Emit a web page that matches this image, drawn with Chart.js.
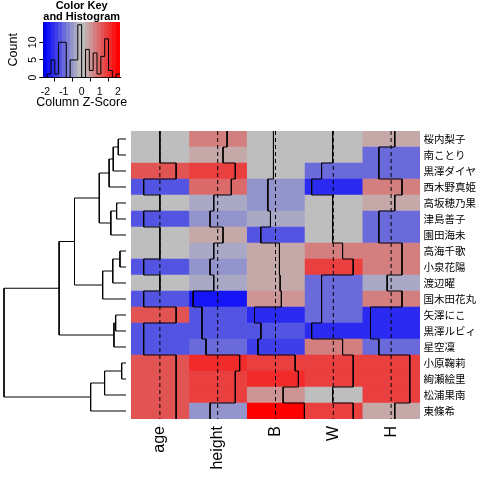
<!DOCTYPE html>
<html>
<head>
<meta charset="utf-8">
<script src="https://cdn.jsdelivr.net/npm/chart.js@4.4.1/dist/chart.umd.min.js"></script>
<style>
html, body { margin: 0; padding: 0; background: #fff; width: 480px; height: 480px; overflow: hidden; }
canvas { position: absolute; }
</style>
</head>
<body>
<canvas id="key" width="164" height="112" style="left:0;top:0"></canvas>
<canvas id="dendro" width="131" height="288" style="left:0;top:131px"></canvas>
<canvas id="heat" width="349" height="349" style="left:131px;top:131px"></canvas>
<script>
// rows in dendrogram order, top to bottom
const rowNames = ['桜内梨子', '南ことり', '黒澤ダイヤ', '西木野真姫', '高坂穂乃果', '津島善子', '園田海未', '高海千歌', '小泉花陽',
    '渡辺曜', '国木田花丸', '矢澤にこ', '黒澤ルビィ', '星空凜', '小原鞠莉', '絢瀬絵里', '松浦果南', '東條希'];
const colNames = ['age', 'height', 'B', 'W', 'H'];

// column z-scores, same row order
const zAge = [0, 0, 1.19, -1.19, 0, -1.19, 0, 0, -1.19, 0, -1.19, 1.19, -1.19, -1.19, 1.19, 1.19, 1.19, 1.19];
const zHeight = [0.69, 0.39, 1.29, 1.00, -0.29, -0.56, 0.39, -0.29, -0.56, -0.29, -1.80, -1.15, -1.15, -0.86, 1.61, 1.29, 1.29, -0.56];
const zB = [-0.15, -0.15, -0.15, -0.56, -0.56, -0.37, -1.08, 0.29, 0.29, 0.34, 0.43, -1.54, -1.07, -1.29, 1.44, 1.68, 0.56, 2.12];
const zW = [-0.05, -0.05, -0.86, -1.59, -0.05, -0.05, -0.05, 0.68, 1.46, -0.86, -0.86, -0.86, -1.59, 0.68, 1.46, 1.46, -0.05, 1.46];
const zH = [0.27, -0.90, -0.90, 0.80, 0.27, -0.90, -0.90, 0.80, 0.80, -0.29, 0.80, -1.51, -1.51, -0.90, 1.37, 1.37, 1.37, 0.27];

// row dendrogram, hclust style: negative = row position, positive = earlier merge
const mergeLeft = [-1, 1, 2, -5, 4, 3, -8, 7, 8, 6, -12, 11, 10, -15, 14, 15, 13];
const mergeRight = [-2, -3, -4, -6, -7, 5, -9, -10, -11, 9, -13, -14, 12, -16, -17, -18, 16];
const mergeHeight = [0.32, 0.53, 0.70, 0.39, 0.63, 1.11, 0.25, 0.55, 0.97, 2.14, 0.43, 0.50, 2.78, 0.18, 0.89, 1.47, 5.07];

const keyTicks = [-2, -1, 0, 1, 2];
const countTicks = [0, 5, 10];

Chart.defaults.font.family = "'Liberation Sans', Arial, sans-serif";
Chart.defaults.color = '#000';

const columns = [zAge, zHeight, zB, zW, zH];
const nCol = 20;
const zmax = Math.max(...columns.flat().map(Math.abs));
const bw = 2 * zmax / nCol;
const breaks = [];
for (let i = 0; i <= nCol; i++) breaks.push(-zmax + i * bw);

function mix(a, b, t) {
    return 'rgb(' + a.map((v, i) => Math.round(v + (b[i] - v) * t)).join(',') + ')';
}
// blue -> grey -> red, like colorpanel(20, "blue", "grey", "red")
const palette = [];
for (let i = 0; i < nCol / 2; i++) palette.push(mix([0, 0, 255], [190, 190, 190], i / (nCol / 2 - 1)));
for (let i = 0; i < nCol / 2; i++) palette.push(mix([190, 190, 190], [255, 0, 0], i / (nCol / 2 - 1)));

function binOf(v) {
    const k = Math.ceil((v + zmax) / bw - 1e-9) - 1;
    return Math.min(nCol - 1, Math.max(0, k));
}
const counts = new Array(nCol).fill(0);
columns.flat().forEach(v => counts[binOf(v)]++);
const yTop = Math.max(...counts) / 0.95;

// colour key + histogram
new Chart(document.getElementById('key'), {
    type: 'bar',
    data: {
        datasets: [
            {
                type: 'bar',
                data: palette.map((_, i) => ({ x: breaks[i] + bw / 2, y: [0, yTop] })),
                backgroundColor: palette,
                borderWidth: 0,
                barPercentage: 1,
                categoryPercentage: 1,
                grouped: false,
                order: 2,
            },
            {
                type: 'line',
                data: breaks.map((b, i) => ({ x: b, y: counts[Math.min(i, nCol - 1)] })),
                stepped: 'before',
                borderColor: '#000',
                borderWidth: 1,
                pointRadius: 0,
                clip: false,
                order: 1,
            },
        ],
    },
    options: {
        responsive: false,
        animation: false,
        devicePixelRatio: 1,
        layout: { padding: { left: 0, right: 44, top: 0, bottom: 0 } },
        plugins: {
            legend: { display: false },
            tooltip: { enabled: false },
            title: {
                display: true,
                fullSize: false,
                text: ['Color Key', 'and Histogram'],
                color: '#000',
                font: { size: 11, weight: 'bold', lineHeight: 1 },
                padding: { top: 0, bottom: 0 },
            },
        },
        scales: {
            x: {
                type: 'linear',
                min: -zmax,
                max: zmax,
                offset: false,
                weight: 0,
                afterBuildTicks: function (s) { s.ticks = keyTicks.map(v => ({ value: v })) },
                ticks: { font: { size: 10.5 }, padding: 4.5, autoSkip: false },
                grid: { drawOnChartArea: false, tickLength: 4, color: '#000' },
                border: { display: true, color: '#000' },
                afterFit: function (s) { s.height = 19 },
            },
            // second bottom axis carrying the axis name as a single label
            xlab: {
                type: 'linear',
                axis: 'x',
                position: 'bottom',
                min: -zmax,
                max: zmax,
                offset: false,
                weight: 1,
                afterBuildTicks: function (s) { s.ticks = [{ value: 0 }] },
                ticks: {
                    callback: () => 'Column Z-Score',
                    minRotation: 0,
                    maxRotation: 0,
                    autoSkip: false,
                    padding: 0,
                    font: { size: 12.5, lineHeight: 1 },
                },
                grid: { display: false, drawTicks: false },
                border: { display: false },
                afterFit: function (s) { s.height = 15.5; s.paddingLeft = 0; s.paddingRight = 0 },
            },
            y: {
                type: 'linear',
                min: 0,
                max: yTop,
                afterBuildTicks: function (s) { s.ticks = countTicks.map(v => ({ value: v })) },
                ticks: { minRotation: 90, maxRotation: 90, crossAlign: 'center', padding: 0, font: { size: 10.5 }, autoSkip: false },
                grid: { drawOnChartArea: false, tickLength: 4, color: '#000' },
                border: { display: true, color: '#000' },
                title: { display: true, text: 'Count', font: { size: 12.5 }, padding: { top: 6, bottom: 0 } },
                afterFit: function (s) { s.width = 43.3 },
            },
        },
    },
});

// row dendrogram
const nodeY = [];
function nodePos(k) {
    return k < 0 ? { y: -k, h: 0 } : { y: nodeY[k - 1], h: mergeHeight[k - 1] };
}
const treeSets = mergeLeft.map((a, i) => {
    const A = nodePos(a);
    const B = nodePos(mergeRight[i]);
    const h = mergeHeight[i];
    nodeY[i] = (A.y + B.y) / 2;
    return {
        data: [{ x: A.h, y: A.y }, { x: h, y: A.y }, { x: h, y: B.y }, { x: B.h, y: B.y }],
        showLine: true,
        borderColor: '#000',
        borderWidth: 1,
        pointRadius: 0,
        clip: false,
    };
});
new Chart(document.getElementById('dendro'), {
    type: 'scatter',
    data: { datasets: treeSets },
    options: {
        responsive: false,
        animation: false,
        devicePixelRatio: 1,
        layout: { padding: { left: 4, right: 5, top: 0, bottom: 0 } },
        plugins: { legend: { display: false }, tooltip: { enabled: false } },
        scales: {
            x: { type: 'linear', reverse: true, min: 0, max: Math.max(...mergeHeight), display: false },
            y: { type: 'linear', reverse: true, min: 0.5, max: rowNames.length + 0.5, display: false },
        },
    },
});

// heatmap with column traces
const s01 = v => (v + zmax) / (2 * zmax);
const heatSets = [];
columns.forEach((vals, c) => {
    heatSets.push({
        type: 'bar',
        data: vals.map((v, r) => ({ y: r + 1, x: [c + 0.5, c + 1.5] })),
        backgroundColor: vals.map(v => palette[binOf(v)]),
        borderWidth: 0,
        barPercentage: 1,
        categoryPercentage: 1,
        grouped: false,
        order: 3,
    });
});
columns.forEach((vals, c) => {
    const x0 = c + 0.5 + s01(0);
    heatSets.push({
        type: 'line',
        data: [{ x: x0, y: 0.5 }, { x: x0, y: rowNames.length + 0.5 }],
        borderColor: '#000',
        borderWidth: 1,
        borderDash: [4, 3],
        pointRadius: 0,
        clip: false,
        order: 2,
    });
    const pts = [];
    vals.forEach((v, r) => {
        const x = c + 0.5 + s01(v);
        pts.push({ x: x, y: r + 0.5 }, { x: x, y: r + 1.5 });
    });
    heatSets.push({
        type: 'line',
        data: pts,
        borderColor: '#000',
        borderWidth: 1,
        pointRadius: 0,
        clip: false,
        order: 1,
    });
});
new Chart(document.getElementById('heat'), {
    type: 'bar',
    data: { datasets: heatSets },
    options: {
        indexAxis: 'y',
        responsive: false,
        animation: false,
        devicePixelRatio: 1,
        layout: { padding: 0 },
        plugins: { legend: { display: false }, tooltip: { enabled: false } },
        scales: {
            x: {
                type: 'linear',
                position: 'bottom',
                min: 0.5,
                max: colNames.length + 0.5,
                offset: false,
                afterBuildTicks: function (s) { s.ticks = colNames.map((_, i) => ({ value: i + 1 })) },
                ticks: {
                    callback: v => colNames[v - 1],
                    minRotation: 90,
                    maxRotation: 90,
                    autoSkip: false,
                    padding: 7,
                    font: { size: 16 },
                },
                grid: { display: false, drawTicks: false },
                border: { display: false },
                afterFit: function (s) { s.height = 61; s.paddingLeft = 0; s.paddingRight = 0 },
            },
            y: {
                type: 'linear',
                position: 'right',
                reverse: true,
                min: 0.5,
                max: rowNames.length + 0.5,
                offset: false,
                afterBuildTicks: function (s) { s.ticks = rowNames.map((_, i) => ({ value: i + 1 })) },
                ticks: {
                    callback: v => rowNames[v - 1],
                    autoSkip: false,
                    padding: 3.5,
                    font: { family: "'Noto Sans CJK JP', sans-serif", size: 10.5 },
                },
                grid: { display: false, drawTicks: false },
                border: { display: false },
                afterFit: function (s) { s.width = 60; s.paddingTop = 0; s.paddingBottom = 0 },
            },
        },
    },
});
</script>
</body>
</html>
